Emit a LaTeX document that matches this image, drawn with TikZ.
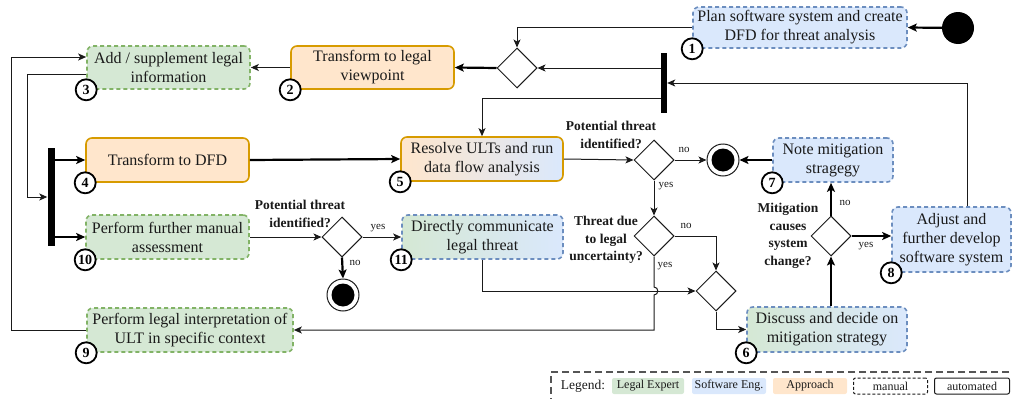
\documentclass[tikz,border=0pt]{standalone}
\usepackage{fontspec}
\setmainfont{Liberation Serif}
\usetikzlibrary{shapes.geometric,arrows.meta,calc}
\definecolor{grfill}{HTML}{D5E8D4}
\definecolor{grline}{HTML}{82B366}
\definecolor{blfill}{HTML}{DAE8FC}
\definecolor{blline}{HTML}{6C8EBF}
\definecolor{orfill}{HTML}{FFE6CC}
\definecolor{orline}{HTML}{D79B00}
\definecolor{ink}{HTML}{1A1A1A}
\definecolor{frame}{HTML}{555555}
\tikzset{
  box/.style={rectangle, rounded corners=6pt, align=center, inner sep=2pt, line width=1.6pt, text=ink},
  manualbox/.style={box, dash pattern=on 4pt off 3pt},
  legalbox/.style={manualbox, draw=grline, fill=grfill},
  swbox/.style={manualbox, draw=blline, fill=blfill},
  apbox/.style={box, draw=orline, fill=orfill},
  mixbox/.style={manualbox, draw=blline, left color=grfill, right color=blfill},
  apswbox/.style={box, draw=orline, left color=orfill, right color=blfill},
  badge/.style={circle, draw=black, line width=1.8pt, fill=white, minimum size=21pt, inner sep=0pt, font=\fontsize{14}{14}\selectfont\bfseries},
  decision/.style={diamond, draw=ink, line width=1pt, fill=white, minimum width=40pt, minimum height=40pt, inner sep=0pt, aspect=1},
  bar/.style={rectangle, fill=black, inner sep=0pt},
  startnode/.style={circle, fill=black, minimum size=32pt, inner sep=0pt},
  endnode/.style={circle, draw=ink, line width=1pt, fill=white, minimum size=32pt, inner sep=0pt,
    path picture={\fill[black] (path picture bounding box.center) circle (11.5pt);}},
  flow/.style={-{Stealth[length=8pt,width=7pt,inset=2pt]}, draw=ink, line width=1pt},
  boldflow/.style={-{Stealth[length=9pt,width=8pt,inset=2pt]}, draw=black, line width=2.2pt},
  qlabel/.style={align=center, font=\fontsize{13.5}{17.5}\selectfont\bfseries, inner sep=0pt, text=ink},
  lbl/.style={font=\fontsize{11}{11}\selectfont, inner sep=0pt, text=ink},
  legitem/.style={rectangle, rounded corners=2pt, minimum height=16pt, inner sep=0pt, text=ink, font=\fontsize{12}{12}\selectfont},
}
\begin{document}
\begin{tikzpicture}[x=1pt, y=-1pt, font=\fontsize{16}{19}\selectfont]
\useasboundingbox (0,0) rectangle (1013,399);

% activities
\node[swbox, minimum width=214pt, minimum height=41pt] (n1) at (800,27.5) {Plan software system and create\\DFD for threat analysis};
\node[apbox, minimum width=163pt, minimum height=43pt] (n2) at (372.5,67.5) {Transform to legal\\viewpoint};
\node[legalbox, minimum width=163pt, minimum height=43pt] (n3) at (168.5,67.5) {Add / supplement legal\\information};
\node[apbox, minimum width=163pt, minimum height=44pt] (n4) at (167.5,160) {Transform to DFD};
\node[apswbox, minimum width=162pt, minimum height=44pt] (n5) at (482,159) {Resolve ULTs and run\\data flow analysis};
\node[swbox, minimum width=120pt, minimum height=44pt] (n7) at (833,160) {Note mitigation\\stragegy};
\node[swbox, minimum width=119pt, minimum height=65pt] (n8) at (951.5,239.5) {Adjust and\\further develop\\software system};
\node[legalbox, minimum width=163pt, minimum height=44pt] (n10) at (167.5,237) {Perform further manual\\assessment};
\node[mixbox, minimum width=161pt, minimum height=44pt] (n11) at (482.5,237) {Directly communicate\\legal threat};
\node[legalbox, minimum width=206pt, minimum height=44pt] (n9) at (190,330) {Perform legal interpretation of\\ULT in specific context};
\node[mixbox, minimum width=160pt, minimum height=45pt] (n6) at (827,329.5) {Discuss and decide on\\mitigation strategy};

% control nodes
\node[startnode] (s) at (958,28) {};
\node[endnode] (e1) at (723,160) {};
\node[endnode] (e2) at (343,295) {};
\node[decision] (d0) at (517,68) {};
\node[decision] (d1) at (654,160) {};
\node[decision] (d2) at (654,236) {};
\node[decision] (d3) at (716,291) {};
\node[decision] (d4) at (831,236) {};
\node[decision] (d5) at (342,237) {};
\node[bar, minimum width=6pt, minimum height=60pt] (bar1) at (664,83) {};
\node[bar, minimum width=7pt, minimum height=98pt] (bar2) at (51,197) {};

% decision questions
\node[qlabel] (q1) at (611,135) {Potential threat\\identified?};
\node[qlabel] (q2) at (606,240) {Threat due\\to legal\\uncertainty?};
\node[qlabel] (q3) at (788,236) {Mitigation\\causes\\system\\change?};
\node[qlabel] (q4) at (300,214) {Potential threat\\identified?};

% guard labels
\node[lbl] (g1) at (684,150) {no};
\node[lbl] (g2) at (666,186) {yes};
\node[lbl] (g3) at (686,226) {no};
\node[lbl] (g4) at (665,266) {yes};
\node[lbl] (g5) at (845,203) {no};
\node[lbl] (g6) at (866,246) {yes};
\node[lbl] (g7) at (378,228) {yes};
\node[lbl] (g8) at (355,263) {no};

% connectors
\draw[boldflow] (s) -- (n1.east);
\draw[flow] (n1.west) -| (d0.north);
\draw[flow] (bar1.west |- d0.east) -- (d0.east);
\draw[boldflow] (d0.west) -- (n2.east);
\draw[flow] (n2.west) -- (n3.east);
\draw[flow] ([xshift=16pt]n8.north) |- (bar1.east);
\draw[flow] ([yshift=-15pt]bar1.west) -| (n5.north);
\draw[flow] (n9.west) -- ++(-75,0) |- ([yshift=10.5pt]n3.west);
\draw[flow] ([yshift=-6.5pt]n3.west) -- ++(-59,0) |- (bar2.west);
\draw[boldflow] (bar2.east |- n4.west) -- (n4.west);
\draw[boldflow] (bar2.east |- n10.west) -- (n10.west);
\draw[boldflow] (n4.east) -- (n5.west);
\draw[flow] (n5.east) -- (d1.west);
\draw[flow] (d1.east) -- (e1.west);
\draw[boldflow] (n7.west) -- (e1.east);
\draw[flow] (d1.south) -- (d2.north);
\draw[flow] (d2.east) -| (d3.north);
\draw[flow] (n11.south) |- (d3.west);
\coordinate (jump) at (d2.south |- d3.west);
\draw[flow] (d2.south) -- ([yshift=4pt]jump)
  .. controls ([shift={(5pt,4pt)}]jump) and ([shift={(5pt,-4pt)}]jump) .. ([yshift=-4pt]jump)
  |- (n9.east);
\draw[flow] (d3.south) |- (n6.west);
\draw[boldflow] (n6.north -| d4.south) -- (d4.south);
\draw[boldflow] (d4.north) -- (d4.north |- n7.south);
\draw[boldflow] (d4.east) -- (n8.west |- d4.east);
\draw[flow] (n10.east) -- (d5.west);
\draw[flow] (d5.east) -- (n11.west);
\draw[boldflow] (d5.south) -- (e2.north);

% step numbers
\node[badge] (b1) at (n1.south west) {1};
\node[badge] (b2) at (n2.south west) {2};
\node[badge] (b3) at (n3.south west) {3};
\node[badge] (b4) at (n4.south west) {4};
\node[badge] (b5) at (n5.south west) {5};
\node[badge] (b6) at (n6.south west) {6};
\node[badge] (b7) at (n7.south west) {7};
\node[badge] (b8) at (n8.south west) {8};
\node[badge] (b9) at (n9.south west) {9};
\node[badge] (b10) at (n10.south west) {10};
\node[badge] (b11) at (n11.south west) {11};

% legend
\draw[frame, line width=1.3pt, dash pattern=on 7pt off 4pt] (1020,372) -- (551,372) -- (551,410);
\node[font=\fontsize{13.5}{14}\selectfont, text=ink, inner sep=0pt] (lg) at (583,386) {Legend:};
\node[legitem, fill=grfill, minimum width=72pt] (lg1) at (648,386) {Legal Expert};
\node[legitem, fill=blfill, minimum width=74pt] (lg2) at (729,386) {Software Eng.};
\node[legitem, fill=orfill, minimum width=74pt] (lg3) at (810,386) {Approach};
\node[legitem, draw=ink, line width=1pt, dash pattern=on 3pt off 2pt, minimum width=74pt] (lg4) at (890.5,386) {manual};
\node[legitem, draw=ink, line width=1pt, minimum width=75pt] (lg5) at (972,386) {automated};
\end{tikzpicture}
\end{document}
